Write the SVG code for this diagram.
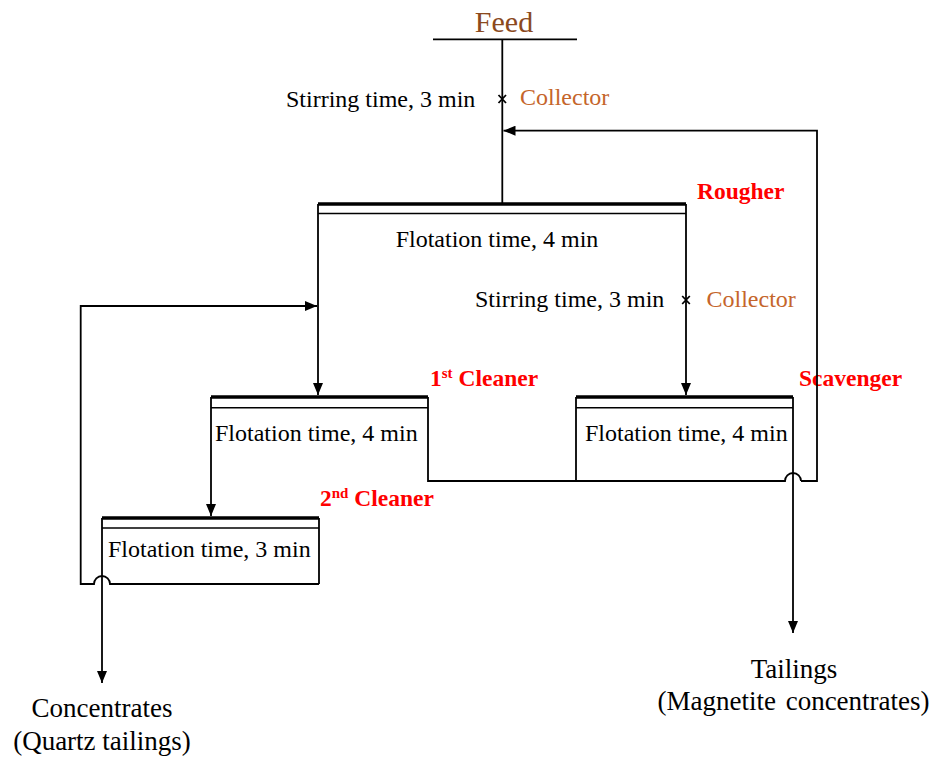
<svg xmlns="http://www.w3.org/2000/svg" width="933" height="761" viewBox="0 0 933 761">
<style>
  .ln { fill: none; stroke: #000; stroke-width: 1.8; }
  .thick { stroke: #000; stroke-width: 3.6; fill: none; }
  .thin { stroke: #000; stroke-width: 1.6; fill: none; }
  .t { font-family: "Liberation Serif", "Times New Roman", serif; font-size: 24px; fill: #000; }
  .big { font-family: "Liberation Serif", "Times New Roman", serif; font-size: 27px; fill: #000; }
  .lbl { font-family: "Liberation Serif", "Times New Roman", serif; font-size: 23.5px; font-weight: bold; fill: #FF0000; }
  .col { font-family: "Liberation Serif", "Times New Roman", serif; font-size: 24px; fill: #C5652B; }
  .sup { font-size: 15px; }
</style>
<defs>
  <marker id="arr" viewBox="0 0 12 10" refX="12" refY="5" markerWidth="12" markerHeight="10" markerUnits="userSpaceOnUse" orient="auto">
    <path d="M0,0 L12,5 L0,10 Z" fill="#000"/>
  </marker>
</defs>
<rect width="933" height="761" fill="#fff"/>

<g id="feed">
  <text x="504" y="31.5" text-anchor="middle" font-family="Liberation Serif, Times New Roman, serif" font-size="30" fill="#8B4A1E">Feed</text>
  <line class="ln" x1="433" y1="39.3" x2="577" y2="39.3"/>
</g>

<g id="rougher">
  <line class="thick" x1="318" y1="204" x2="686" y2="204"/>
  <line class="thin" x1="318" y1="213.5" x2="686" y2="213.5"/>
  <text class="t" x="497" y="247" text-anchor="middle">Flotation time, 4 min</text>
  <text class="lbl" x="697" y="199">Rougher</text>
</g>

<g id="cleaner1">
  <line class="thick" x1="211" y1="397" x2="428" y2="397"/>
  <line class="thin" x1="211" y1="407.7" x2="428" y2="407.7"/>
  <text class="t" x="215" y="440.5">Flotation time, 4 min</text>
  <text class="lbl" x="430" y="386">1<tspan class="sup" dy="-8">st</tspan><tspan dy="8"> Cleaner</tspan></text>
</g>

<g id="scavenger">
  <line class="thick" x1="576" y1="397" x2="793" y2="397"/>
  <line class="thin" x1="576" y1="407.7" x2="793" y2="407.7"/>
  <line class="ln" x1="576" y1="397" x2="576" y2="481"/>
  <text class="t" x="585" y="441">Flotation time, 4 min</text>
  <text class="lbl" x="799" y="386">Scavenger</text>
</g>

<g id="cleaner2">
  <line class="thick" x1="102" y1="518" x2="319" y2="518"/>
  <line class="thin" x1="102" y1="528" x2="319" y2="528"/>
  <line class="ln" x1="319" y1="518" x2="319" y2="584"/>
  <text class="t" x="108" y="556.7">Flotation time, 3 min</text>
  <text class="lbl" x="320" y="506">2<tspan class="sup" dy="-8">nd</tspan><tspan dy="8"> Cleaner</tspan></text>
</g>

<g id="concentrates">
  <text class="big" x="102" y="717" text-anchor="middle">Concentrates</text>
  <text class="big" x="102" y="749.5" text-anchor="middle">(Quartz tailings)</text>
</g>

<g id="tailings">
  <text class="big" x="794" y="677.7" text-anchor="middle">Tailings</text>
  <text class="big" x="793.5" y="709.5" text-anchor="middle" word-spacing="3">(Magnetite concentrates)</text>
</g>

<g id="reagents">
  <text class="t" x="286" y="106.7">Stirring time, 3 min</text>
  <text class="col" x="520" y="104.5">Collector</text>
  <text class="t" x="475" y="306.7">Stirring time, 3 min</text>
  <text class="col" x="706.5" y="306.7">Collector</text>
</g>

<g id="connectors">
  <!-- feed to rougher -->
  <line class="ln" x1="502.3" y1="39.3" x2="502.3" y2="204"/>
  <path class="ln" d="M498.5,95 L506,103 M506,95 L498.5,103"/>
  <!-- scavenger concentrate return to feed -->
  <path class="ln" d="M801,481 L817,481 L817,130.7 L503.5,130.7" marker-end="url(#arr)"/>
  <!-- rougher concentrate to 1st cleaner -->
  <path class="ln" d="M318,204 L318,395" marker-end="url(#arr)"/>
  <!-- rougher tailings to scavenger -->
  <path class="ln" d="M686,204 L686,395" marker-end="url(#arr)"/>
  <path class="ln" d="M682.2,296 L689.8,304 M689.8,296 L682.2,304"/>
  <!-- 1st cleaner concentrate to 2nd cleaner -->
  <path class="ln" d="M211,397 L211,516" marker-end="url(#arr)"/>
  <!-- 1st cleaner tailings to scavenger line -->
  <path class="ln" d="M428,397 L428,481 L785,481 A8,8 0 0 1 801,481"/>
  <!-- scavenger tailings out -->
  <path class="ln" d="M793,397 L793,633" marker-end="url(#arr)"/>
  <!-- 2nd cleaner tailings back to 1st cleaner -->
  <path class="ln" d="M319,584 L110,584 A8,8 0 0 0 94,584 L80.7,584 L80.7,306 L317,306" marker-end="url(#arr)"/>
  <!-- 2nd cleaner concentrate out -->
  <path class="ln" d="M102,518 L102,683" marker-end="url(#arr)"/>
</g>
</svg>
